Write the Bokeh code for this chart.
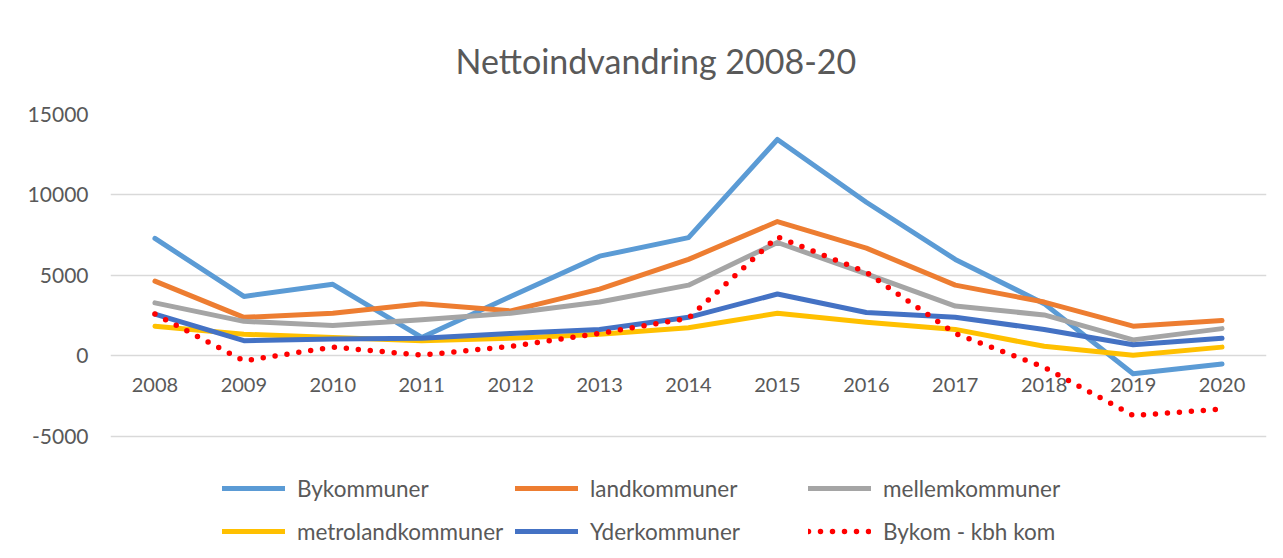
from bokeh.plotting import figure
from bokeh.models import (FactorRange, Range1d, CategoricalAxis, FixedTicker,
                          Legend, LegendItem, PrintfTickFormatter)
from bokeh.embed import file_html
from bokeh.resources import INLINE

years = ["2008", "2009", "2010", "2011", "2012", "2013", "2014",
         "2015", "2016", "2017", "2018", "2019", "2020"]

bykommuner = [7300, 3700, 4450, 1150, 3700, 6200, 7350, 13450, 9550, 6000, 3250, -1100, -500]
landkommuner = [4650, 2400, 2650, 3250, 2800, 4150, 6000, 8350, 6700, 4400, 3350, 1850, 2200]
mellemkommuner = [3300, 2150, 1900, 2250, 2650, 3350, 4400, 7050, 5100, 3100, 2550, 1000, 1700]
metrolandkommuner = [1850, 1350, 1150, 950, 1100, 1350, 1750, 2650, 2100, 1650, 600, 50, 550]
yderkommuner = [2600, 950, 1050, 1100, 1400, 1650, 2400, 3850, 2700, 2400, 1650, 700, 1100]
bykom_kbh = [2600, -300, 550, 50, 600, 1400, 2350, 7400, 5200, 1400, -700, -3700, -3300]

y_ticks = [-5000, 0, 5000, 10000, 15000]

FONT = "Lato"
TXT = "#595959"

# frame runs to the bottom of the picture so the legend can sit inside it;
# the lower part of the value range below -5000 is left blank
p = figure(width=1283, height=558, output_backend="svg", toolbar_location=None,
           x_range=FactorRange(*years), y_range=Range1d(-12580, 15000),
           x_axis_location=None,
           min_border_left=110, min_border_right=17, min_border_top=114,
           min_border_bottom=0, title="Nettoindvandring 2008-20")

p.outline_line_color = None
p.background_fill_color = "white"
p.border_fill_color = "white"

p.title.align = "left"
p.title.offset = 345
p.title.text_font = FONT
p.title.text_font_size = "34px"
p.title.text_font_style = "normal"
p.title.text_color = TXT
p.title.standoff = 68

p.xgrid.visible = False
p.ygrid.ticker = FixedTicker(ticks=y_ticks)
p.ygrid.grid_line_color = "#d9d9d9"
p.ygrid.grid_line_width = 1.5

ya = p.yaxis[0]
ya.ticker = FixedTicker(ticks=y_ticks)
ya.formatter = PrintfTickFormatter(format="%d")
ya.axis_line_color = None
ya.major_tick_line_color = None
ya.minor_tick_line_color = None
ya.major_tick_out = 0
ya.major_tick_in = 0
ya.major_label_standoff = 22
ya.major_label_text_font = FONT
ya.major_label_text_font_size = "21px"
ya.major_label_text_color = TXT

xa = CategoricalAxis(fixed_location=0)
xa.axis_line_color = None
xa.major_tick_line_color = None
xa.minor_tick_line_color = None
xa.major_tick_out = 0
xa.major_tick_in = 0
xa.major_label_standoff = 22
xa.major_label_text_font = FONT
xa.major_label_text_font_size = "20px"
xa.major_label_text_color = TXT
p.add_layout(xa, "below")

series = [
    ("Bykommuner", bykommuner, "#5B9BD5", None),
    ("landkommuner", landkommuner, "#ED7D31", None),
    ("mellemkommuner", mellemkommuner, "#A5A5A5", None),
    ("metrolandkommuner", metrolandkommuner, "#FFC000", None),
    ("Yderkommuner", yderkommuner, "#4472C4", None),
    ("Bykom - kbh kom", bykom_kbh, "#FF0000", "0 12"),
]

items = []
for name, vals, col, dash in series:
    if dash is None:
        r = p.line(years, vals, line_color=col, line_width=5, line_join="round",
                   line_cap="round")
    else:
        r = p.line(years, vals, line_color=col, line_width=5.5, line_dash=dash,
                   line_cap="round")
    items.append(LegendItem(label=name, renderers=[r]))

# the legend grid fills column by column; order items so they read row by row
ordered = [items[0], items[3], items[1], items[4], items[2], items[5]]

legend = Legend(items=ordered, location=(112, 11), ncols=3,
                glyph_width=63, glyph_height=32, label_standoff=12,
                label_width=207, spacing=11, padding=0, margin=0,
                border_line_color=None, background_fill_alpha=0,
                label_text_font=FONT, label_text_font_size="22.5px",
                label_text_color=TXT)
p.add_layout(legend, "center")

open("out.html", "w").write(file_html(p, INLINE))
